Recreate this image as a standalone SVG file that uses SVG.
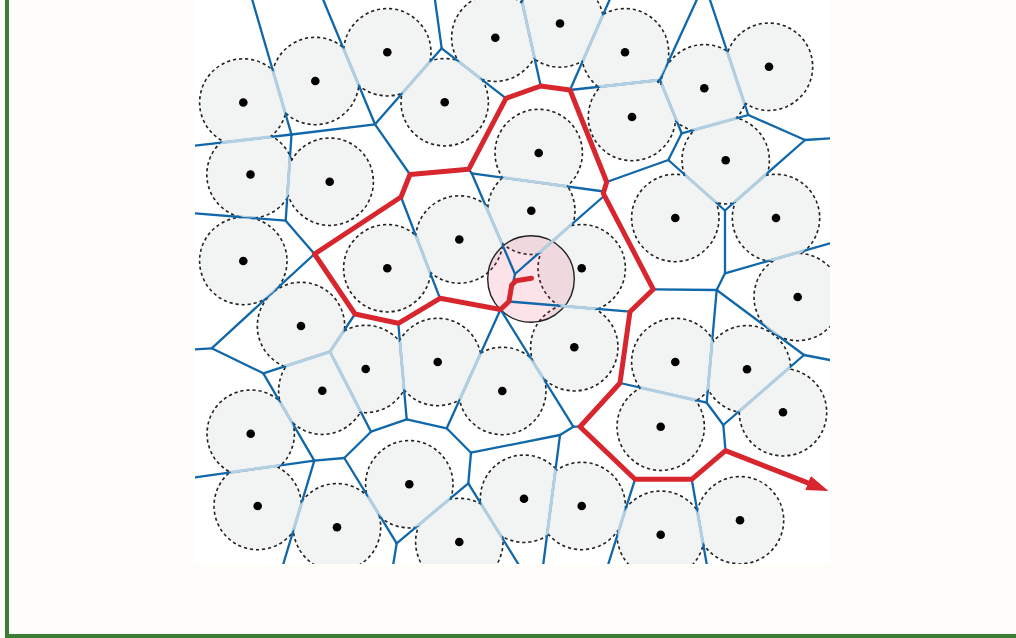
<svg xmlns="http://www.w3.org/2000/svg" xmlns:xlink="http://www.w3.org/1999/xlink" width="1016" height="638" viewBox="0 0 1016 638">
<style>
.ring{fill:none;stroke:#222;stroke-width:3;stroke-dasharray:3.2 2.8}
.disc{fill:#f2f4f4}
.dot{fill:#000}
.dark{fill:none;stroke:#1067aa;stroke-width:2.3;stroke-linecap:round;stroke-linejoin:round}
.light{fill:none;stroke:#b4cfe0;stroke-width:3;stroke-linecap:butt;stroke-linejoin:round}
.route{fill:none;stroke:#d7262e;stroke-width:5;stroke-linejoin:round;stroke-linecap:round}
.query{fill:#e23c64;fill-opacity:0.14;stroke:#222;stroke-width:1.4}
.frame{fill:#3a7d34}
</style>
<defs>
<clipPath id="panel"><rect x="195" y="0" width="635" height="564"/></clipPath>
<clipPath id="discs">
<circle cx="243.3" cy="102.5" r="43"/><circle cx="315.3" cy="81" r="43"/><circle cx="387.3" cy="52.3" r="43"/><circle cx="444.7" cy="102.3" r="43"/><circle cx="495.3" cy="37.7" r="43"/><circle cx="560" cy="23.5" r="43"/><circle cx="625" cy="52.3" r="43"/><circle cx="632" cy="117" r="43"/><circle cx="704.3" cy="88.3" r="43"/><circle cx="769" cy="66.7" r="43"/><circle cx="250.5" cy="174.5" r="43"/><circle cx="329.7" cy="181.7" r="43"/><circle cx="538.7" cy="153" r="43"/><circle cx="531.3" cy="210.7" r="43"/><circle cx="725.7" cy="160.3" r="43"/><circle cx="675.3" cy="218" r="43"/><circle cx="776" cy="218" r="43"/><circle cx="243.3" cy="261" r="43"/><circle cx="387.3" cy="268.3" r="43"/><circle cx="459.3" cy="239.5" r="43"/><circle cx="581.7" cy="268.3" r="43"/><circle cx="797.7" cy="297" r="43"/><circle cx="301" cy="326" r="43"/><circle cx="365.7" cy="369" r="43"/><circle cx="322.3" cy="390.7" r="43"/><circle cx="437.7" cy="362" r="43"/><circle cx="502.3" cy="391" r="43"/><circle cx="574.3" cy="347.3" r="43"/><circle cx="675.3" cy="362" r="43"/><circle cx="747" cy="369.3" r="43"/><circle cx="783" cy="412.3" r="43"/><circle cx="660.7" cy="426.7" r="43"/><circle cx="250.7" cy="433.7" r="43"/><circle cx="257.7" cy="506" r="43"/><circle cx="337" cy="527.3" r="43"/><circle cx="409.3" cy="484.3" r="43"/><circle cx="459.3" cy="542" r="43"/><circle cx="524" cy="498.7" r="43"/><circle cx="581.7" cy="506" r="43"/><circle cx="660.7" cy="534.7" r="43"/><circle cx="740" cy="520.3" r="43"/>
</clipPath>
<marker id="arrow" markerUnits="userSpaceOnUse" markerWidth="23" markerHeight="16" refX="0.5" refY="7.5" orient="auto" viewBox="0 0 23 16">
<path d="M0,0 L22,7.5 L0,15 Z" fill="#d7262e"/>
</marker>
</defs>
<rect x="0" y="0" width="1016" height="638" fill="#fefdf9"/>
<rect x="195" y="0" width="635" height="564" fill="#ffffff"/>
<g clip-path="url(#panel)">
<g id="outlines" class="ring">
<circle cx="243.3" cy="102.5" r="43"/><circle cx="315.3" cy="81" r="43"/><circle cx="387.3" cy="52.3" r="43"/><circle cx="444.7" cy="102.3" r="43"/><circle cx="495.3" cy="37.7" r="43"/><circle cx="560" cy="23.5" r="43"/><circle cx="625" cy="52.3" r="43"/><circle cx="632" cy="117" r="43"/><circle cx="704.3" cy="88.3" r="43"/><circle cx="769" cy="66.7" r="43"/><circle cx="250.5" cy="174.5" r="43"/><circle cx="329.7" cy="181.7" r="43"/><circle cx="538.7" cy="153" r="43"/><circle cx="531.3" cy="210.7" r="43"/><circle cx="725.7" cy="160.3" r="43"/><circle cx="675.3" cy="218" r="43"/><circle cx="776" cy="218" r="43"/><circle cx="243.3" cy="261" r="43"/><circle cx="387.3" cy="268.3" r="43"/><circle cx="459.3" cy="239.5" r="43"/><circle cx="581.7" cy="268.3" r="43"/><circle cx="797.7" cy="297" r="43"/><circle cx="301" cy="326" r="43"/><circle cx="365.7" cy="369" r="43"/><circle cx="322.3" cy="390.7" r="43"/><circle cx="437.7" cy="362" r="43"/><circle cx="502.3" cy="391" r="43"/><circle cx="574.3" cy="347.3" r="43"/><circle cx="675.3" cy="362" r="43"/><circle cx="747" cy="369.3" r="43"/><circle cx="783" cy="412.3" r="43"/><circle cx="660.7" cy="426.7" r="43"/><circle cx="250.7" cy="433.7" r="43"/><circle cx="257.7" cy="506" r="43"/><circle cx="337" cy="527.3" r="43"/><circle cx="409.3" cy="484.3" r="43"/><circle cx="459.3" cy="542" r="43"/><circle cx="524" cy="498.7" r="43"/><circle cx="581.7" cy="506" r="43"/><circle cx="660.7" cy="534.7" r="43"/><circle cx="740" cy="520.3" r="43"/>
</g>
<g id="sites">
<g id="site-1"><circle class="disc" cx="243.3" cy="102.5" r="43"/><circle class="dot" cx="243.3" cy="102.5" r="4.3"/></g>
<g id="site-2"><circle class="disc" cx="315.3" cy="81" r="43"/><circle class="dot" cx="315.3" cy="81" r="4.3"/></g>
<g id="site-3"><circle class="disc" cx="387.3" cy="52.3" r="43"/><circle class="dot" cx="387.3" cy="52.3" r="4.3"/></g>
<g id="site-4"><circle class="disc" cx="444.7" cy="102.3" r="43"/><circle class="dot" cx="444.7" cy="102.3" r="4.3"/></g>
<g id="site-5"><circle class="disc" cx="495.3" cy="37.7" r="43"/><circle class="dot" cx="495.3" cy="37.7" r="4.3"/></g>
<g id="site-6"><circle class="disc" cx="560" cy="23.5" r="43"/><circle class="dot" cx="560" cy="23.5" r="4.3"/></g>
<g id="site-7"><circle class="disc" cx="625" cy="52.3" r="43"/><circle class="dot" cx="625" cy="52.3" r="4.3"/></g>
<g id="site-8"><circle class="disc" cx="632" cy="117" r="43"/><circle class="dot" cx="632" cy="117" r="4.3"/></g>
<g id="site-9"><circle class="disc" cx="704.3" cy="88.3" r="43"/><circle class="dot" cx="704.3" cy="88.3" r="4.3"/></g>
<g id="site-10"><circle class="disc" cx="769" cy="66.7" r="43"/><circle class="dot" cx="769" cy="66.7" r="4.3"/></g>
<g id="site-11"><circle class="disc" cx="250.5" cy="174.5" r="43"/><circle class="dot" cx="250.5" cy="174.5" r="4.3"/></g>
<g id="site-12"><circle class="disc" cx="329.7" cy="181.7" r="43"/><circle class="dot" cx="329.7" cy="181.7" r="4.3"/></g>
<g id="site-13"><circle class="disc" cx="538.7" cy="153" r="43"/><circle class="dot" cx="538.7" cy="153" r="4.3"/></g>
<g id="site-14"><circle class="disc" cx="531.3" cy="210.7" r="43"/><circle class="dot" cx="531.3" cy="210.7" r="4.3"/></g>
<g id="site-15"><circle class="disc" cx="725.7" cy="160.3" r="43"/><circle class="dot" cx="725.7" cy="160.3" r="4.3"/></g>
<g id="site-16"><circle class="disc" cx="675.3" cy="218" r="43"/><circle class="dot" cx="675.3" cy="218" r="4.3"/></g>
<g id="site-17"><circle class="disc" cx="776" cy="218" r="43"/><circle class="dot" cx="776" cy="218" r="4.3"/></g>
<g id="site-18"><circle class="disc" cx="243.3" cy="261" r="43"/><circle class="dot" cx="243.3" cy="261" r="4.3"/></g>
<g id="site-19"><circle class="disc" cx="387.3" cy="268.3" r="43"/><circle class="dot" cx="387.3" cy="268.3" r="4.3"/></g>
<g id="site-20"><circle class="disc" cx="459.3" cy="239.5" r="43"/><circle class="dot" cx="459.3" cy="239.5" r="4.3"/></g>
<g id="site-21"><circle class="disc" cx="581.7" cy="268.3" r="43"/><circle class="dot" cx="581.7" cy="268.3" r="4.3"/></g>
<g id="site-22"><circle class="disc" cx="797.7" cy="297" r="43"/><circle class="dot" cx="797.7" cy="297" r="4.3"/></g>
<g id="site-23"><circle class="disc" cx="301" cy="326" r="43"/><circle class="dot" cx="301" cy="326" r="4.3"/></g>
<g id="site-24"><circle class="disc" cx="365.7" cy="369" r="43"/><circle class="dot" cx="365.7" cy="369" r="4.3"/></g>
<g id="site-25"><circle class="disc" cx="322.3" cy="390.7" r="43"/><circle class="dot" cx="322.3" cy="390.7" r="4.3"/></g>
<g id="site-26"><circle class="disc" cx="437.7" cy="362" r="43"/><circle class="dot" cx="437.7" cy="362" r="4.3"/></g>
<g id="site-27"><circle class="disc" cx="502.3" cy="391" r="43"/><circle class="dot" cx="502.3" cy="391" r="4.3"/></g>
<g id="site-28"><circle class="disc" cx="574.3" cy="347.3" r="43"/><circle class="dot" cx="574.3" cy="347.3" r="4.3"/></g>
<g id="site-29"><circle class="disc" cx="675.3" cy="362" r="43"/><circle class="dot" cx="675.3" cy="362" r="4.3"/></g>
<g id="site-30"><circle class="disc" cx="747" cy="369.3" r="43"/><circle class="dot" cx="747" cy="369.3" r="4.3"/></g>
<g id="site-31"><circle class="disc" cx="783" cy="412.3" r="43"/><circle class="dot" cx="783" cy="412.3" r="4.3"/></g>
<g id="site-32"><circle class="disc" cx="660.7" cy="426.7" r="43"/><circle class="dot" cx="660.7" cy="426.7" r="4.3"/></g>
<g id="site-33"><circle class="disc" cx="250.7" cy="433.7" r="43"/><circle class="dot" cx="250.7" cy="433.7" r="4.3"/></g>
<g id="site-34"><circle class="disc" cx="257.7" cy="506" r="43"/><circle class="dot" cx="257.7" cy="506" r="4.3"/></g>
<g id="site-35"><circle class="disc" cx="337" cy="527.3" r="43"/><circle class="dot" cx="337" cy="527.3" r="4.3"/></g>
<g id="site-36"><circle class="disc" cx="409.3" cy="484.3" r="43"/><circle class="dot" cx="409.3" cy="484.3" r="4.3"/></g>
<g id="site-37"><circle class="disc" cx="459.3" cy="542" r="43"/><circle class="dot" cx="459.3" cy="542" r="4.3"/></g>
<g id="site-38"><circle class="disc" cx="524" cy="498.7" r="43"/><circle class="dot" cx="524" cy="498.7" r="4.3"/></g>
<g id="site-39"><circle class="disc" cx="581.7" cy="506" r="43"/><circle class="dot" cx="581.7" cy="506" r="4.3"/></g>
<g id="site-40"><circle class="disc" cx="660.7" cy="534.7" r="43"/><circle class="dot" cx="660.7" cy="534.7" r="4.3"/></g>
<g id="site-41"><circle class="disc" cx="740" cy="520.3" r="43"/><circle class="dot" cx="740" cy="520.3" r="4.3"/></g>
</g>
<g id="query-node"><circle class="query" cx="531" cy="279" r="43.3"/></g>
<g id="connectors">
<g class="dark">
<g id="voronoi">
<path d="M252.3,0 L291.5,134.5"/>
<path d="M195,145.7 L291.5,134.5"/>
<path d="M291.5,134.5 L375,124.3"/>
<path d="M291.5,134.5 L285.7,220.7"/>
<path d="M323.3,0 L375,124.3"/>
<path d="M375,124.3 L441.7,48.3"/>
<path d="M375,124.3 L410,174.5"/>
<path d="M435,0 L441.7,48.3"/>
<path d="M441.7,48.3 L506,98.3"/>
<path d="M521.7,0 L540.7,86"/>
<path d="M609.5,0 L570,90"/>
<path d="M570,90 L660,80"/>
<path d="M696.7,0 L660,80"/>
<path d="M660,80 L681.7,133.3"/>
<path d="M681.7,133.3 L748.3,115"/>
<path d="M681.7,133.3 L668.3,160"/>
<path d="M710,0 L748.3,115"/>
<path d="M748.3,115 L805,140"/>
<path d="M805,140 L830,138.3"/>
<path d="M805,140 L725,210.5"/>
<path d="M668.3,160 L606.7,182"/>
<path d="M668.3,160 L725,210.5"/>
<path d="M471.7,173.3 L604,191.5"/>
<path d="M515,274 L604,196"/>
<path d="M725,210.5 L725,273.3"/>
<path d="M725,273.3 L830,243.3"/>
<path d="M725,273.3 L716.7,290"/>
<path d="M716.7,290 L653.3,289.3"/>
<path d="M716.7,290 L706.7,402.7"/>
<path d="M716.7,290 L804,355"/>
<path d="M804,355 L830,360"/>
<path d="M804,355 L723.3,425"/>
<path d="M630,311.7 L509,301.5"/>
<path d="M620,383 L706.7,402.7"/>
<path d="M706.7,402.7 L723.3,425"/>
<path d="M723.3,425 L725.5,450.7"/>
<path d="M580,426.7 L573.3,426.7"/>
<path d="M573.3,426.7 L500.5,309.5"/>
<path d="M573.3,426.7 L560,435"/>
<path d="M560,435 L471,452.7"/>
<path d="M560,435 L543.3,564"/>
<path d="M635,479.3 L608.3,564"/>
<path d="M691.7,479.3 L706.7,564"/>
<path d="M471,452.7 L468.3,483.3"/>
<path d="M471,452.7 L446.7,428.3"/>
<path d="M468.3,483.3 L518.3,564"/>
<path d="M468.3,483.3 L396.7,543.3"/>
<path d="M446.7,428.3 L500.5,309.5"/>
<path d="M446.7,428.3 L406.7,419.3"/>
<path d="M406.7,419.3 L398.3,323.3"/>
<path d="M406.7,419.3 L371,431.7"/>
<path d="M371,431.7 L330,351.7"/>
<path d="M371,431.7 L344.3,458"/>
<path d="M344.3,458 L314.3,460.7"/>
<path d="M344.3,458 L396.7,543.3"/>
<path d="M396.7,543.3 L393.3,564"/>
<path d="M314.3,460.7 L283.3,564"/>
<path d="M314.3,460.7 L195,477.3"/>
<path d="M314.3,460.7 L263.3,373.3"/>
<path d="M263.3,373.3 L211.7,348.3"/>
<path d="M263.3,373.3 L330,351.7"/>
<path d="M211.7,348.3 L195,349.3"/>
<path d="M211.7,348.3 L314.5,254"/>
<path d="M330,351.7 L355,314"/>
<path d="M440,298.3 L401,197"/>
<path d="M509,301.5 L515,274"/>
<path d="M515,274 L471.7,173.3"/>
<path d="M471.7,173.3 L468.7,169.3"/>
<path d="M314.5,254 L285.7,220.7"/>
<path d="M285.7,220.7 L195,213.3"/>
</g>
</g>
<use xlink:href="#voronoi" href="#voronoi" class="light" clip-path="url(#discs)"/>
<path id="route" class="route" marker-end="url(#arrow)" d="M531.5,278.3 L516,280.7 L511.7,285 L509,301.5 L500.5,309.5 L440,298.3 L398.3,323.3 L355,314 L314.5,254 L401,197 L410,174.5 L468.7,169.3 L506,98.3 L540.7,86 L570,90 L606.7,182 L603.3,193.3 L653.3,289.3 L630,311.7 L620,383 L580,426.7 L635,479.3 L691.7,479.3 L725.5,450.7 L808.5,483.1"/>
</g>
</g>
<rect class="frame" x="5" y="0" width="4" height="638"/>
<rect class="frame" x="5" y="634" width="1011" height="4"/>
</svg>
